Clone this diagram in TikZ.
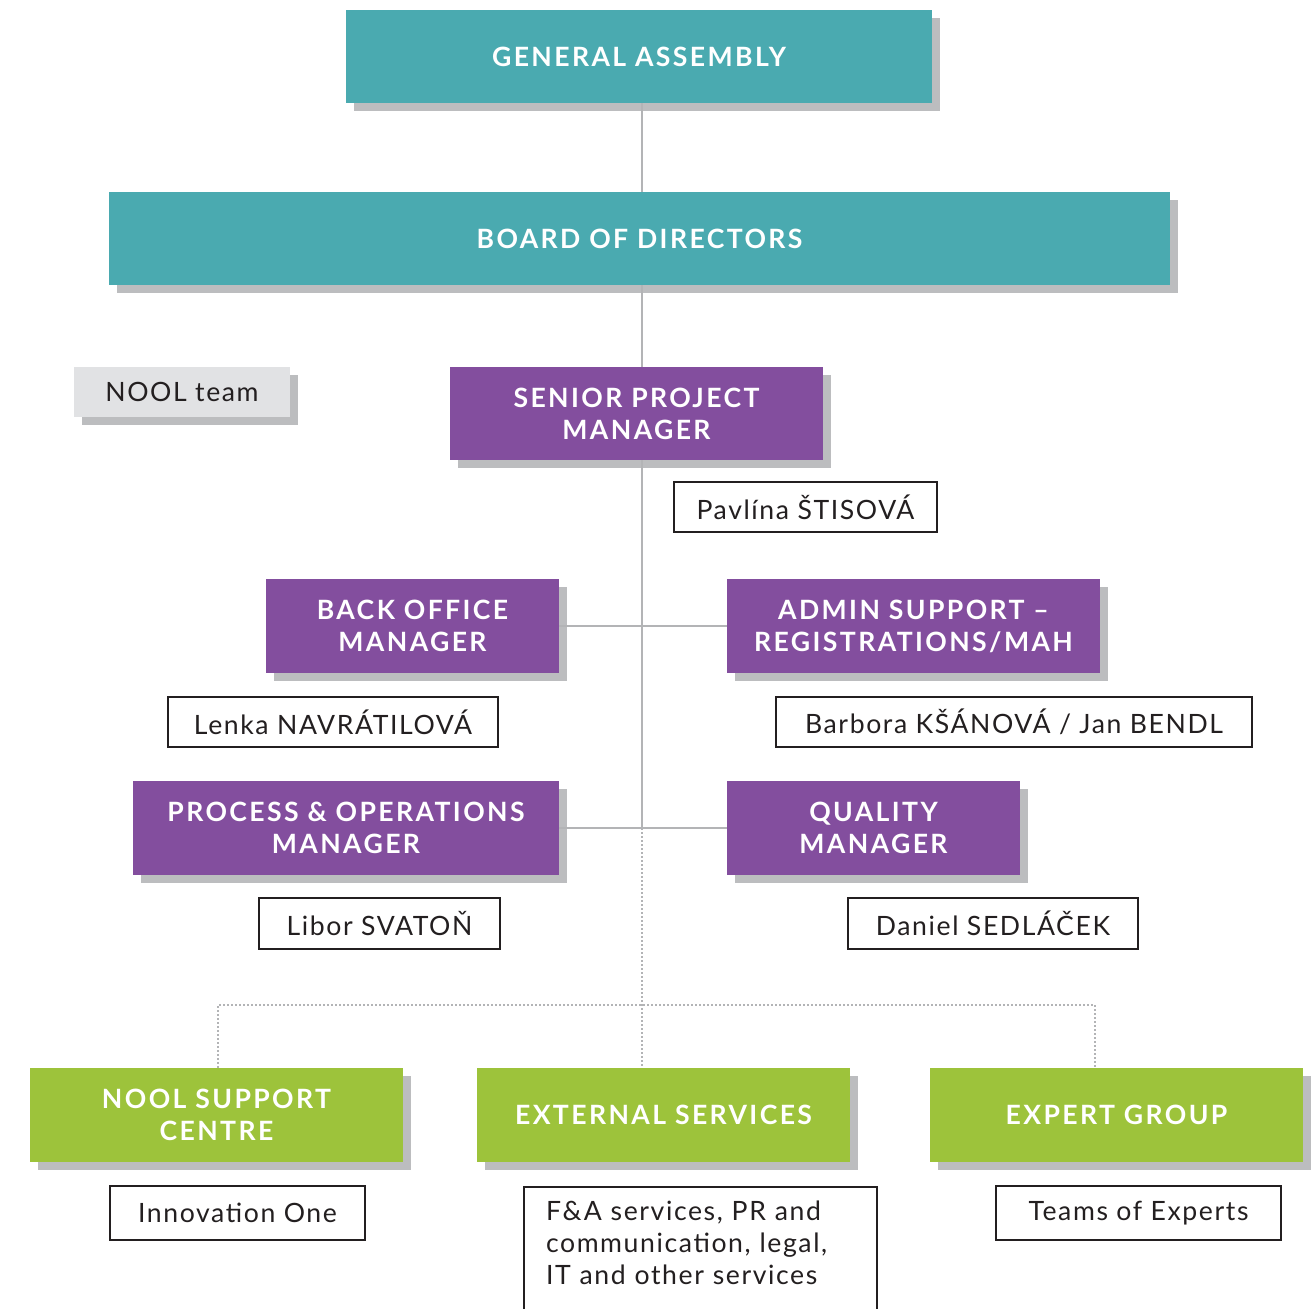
\documentclass[tikz,border=0pt]{standalone}
\usepackage{fontspec}
\setmainfont{Lato}
\newfontfamily\headfont[LetterSpace=9]{Lato}
\newfontfamily\namefont[LetterSpace=6]{Lato}
\usetikzlibrary{positioning}
\usetikzlibrary{shadows}
\definecolor{boardteal}{HTML}{4AAAB0}
\definecolor{mgrpurple}{HTML}{834E9E}
\definecolor{unitgreen}{HTML}{9DC33B}
\definecolor{shadowgray}{HTML}{BCBDBF}
\definecolor{teamgray}{HTML}{E1E2E4}
\definecolor{linegray}{HTML}{B3B4B6}
\definecolor{inkdark}{HTML}{231F20}
\tikzset{
	box/.style={rectangle, inner sep=0pt, align=center, text=white,
		font=\headfont\bfseries\fontsize{13.3}{16}\selectfont,
		drop shadow={shadow xshift=4pt, shadow yshift=-4pt, fill=shadowgray, opacity=1}},
	govbox/.style={box, fill=boardteal},
	mgrbox/.style={box, fill=mgrpurple},
	unitbox/.style={box, fill=unitgreen},
	teambox/.style={box, fill=teamgray, text=inkdark, font=\namefont\fontsize{13.3}{16}\selectfont},
	namebox/.style={rectangle, draw=inkdark, line width=1pt, fill=white, inner sep=0pt,
		text=inkdark, font=\namefont\fontsize{13.3}{16}\selectfont},
	solidline/.style={draw=linegray, line width=1pt},
	dotline/.style={draw=linegray, line width=1pt, dash pattern=on 1pt off 1pt},
}

\begin{document}
\begin{tikzpicture}[x=0.5pt, y=-0.5pt]
	\clip (0,0) rectangle (1312,1308);
	\coordinate (spine) at (642,0);
	\coordinate (forkl) at (218,1005);
	\coordinate (forkr) at (1095,1005);
	
	\node[govbox, minimum width=293pt, minimum height=46.5pt] (ga) at (639,56.5) {GENERAL ASSEMBLY};
	\node[govbox, minimum width=530.5pt, minimum height=46.5pt] (bod) at (639.5,238.5) {BOARD OF DIRECTORS};
	
	\node[teambox, minimum width=108pt, minimum height=25pt] (team) at (182,392) {NOOL team};
	
	\node[mgrbox, minimum width=186.5pt, minimum height=46.5pt] (spm) at (636.5,413.5) {SENIOR PROJECT\\MANAGER};
	\node[namebox, minimum width=131.5pt, minimum height=25pt] (spmname) at (805.5,507) {Pavlína ŠTISOVÁ};
	
	\node[mgrbox, minimum width=146.5pt, minimum height=47pt] (bom) at (412.5,626) {BACK OFFICE\\MANAGER};
	\node[mgrbox, minimum width=186.5pt, minimum height=47pt] (adm) at (913.5,626) {ADMIN SUPPORT –\\REGISTRATIONS/MAH};
	\node[namebox, minimum width=165pt, minimum height=25pt] (bomname) at (333,722) {Lenka NAVRÁTILOVÁ};
	\node[namebox, minimum width=238pt, minimum height=25pt] (admname) at (1014,722) {Barbora KŠÁNOVÁ / Jan BENDL};
	
	\node[mgrbox, minimum width=213pt, minimum height=47pt] (pom) at (346,828) {PROCESS \& OPERATIONS\\MANAGER};
	\node[mgrbox, minimum width=146.5pt, minimum height=47pt] (qm) at (873.5,828) {QUALITY\\MANAGER};
	\node[namebox, minimum width=120.5pt, minimum height=25.5pt] (pomname) at (379.5,923.5) {Libor SVATOŇ};
	\node[namebox, minimum width=145pt, minimum height=25.5pt] (qmname) at (993,923.5) {Daniel SEDLÁČEK};
	
	\node[unitbox, minimum width=186.5pt, minimum height=47pt] (nsc) at (216.5,1115) {NOOL SUPPORT\\CENTRE};
	\node[unitbox, minimum width=186.5pt, minimum height=47pt] (ext) at (663.5,1115) {EXTERNAL SERVICES};
	\node[unitbox, minimum width=186.5pt, minimum height=47pt] (exg) at (1116.5,1115) {EXPERT GROUP};
	\node[namebox, minimum width=127.5pt, minimum height=27pt] (nscname) at (237.5,1213) {Innovation One};
	\node[namebox, anchor=north west, text width=154.5pt, inner xsep=11pt, inner ysep=7pt, align=left,
		text depth=40pt] (extname) at (523,1186) {F\&A services, PR and\\communication, legal,\\IT and other services};
	\node[namebox, minimum width=142.5pt, minimum height=27pt] (exgname) at (1138.5,1213) {Teams of Experts};
	
	\draw[solidline] (ga.south -| spine) -- (bod.north -| spine);
	\draw[solidline] (bod.south -| spine) -- (spm.north -| spine);
	\draw[solidline] (spm.south -| spine) -- (spine |- pom.east);
	\draw[solidline] (bom.east) -- (adm.west);
	\draw[solidline] (pom.east) -- (qm.west);
	
	\draw[dotline] (spine |- pom.east) -- (spine |- ext.north);
	\draw[dotline] (forkl |- nsc.north) -- (forkl) -- (forkr) -- (forkr |- exg.north);
\end{tikzpicture}
\end{document}
